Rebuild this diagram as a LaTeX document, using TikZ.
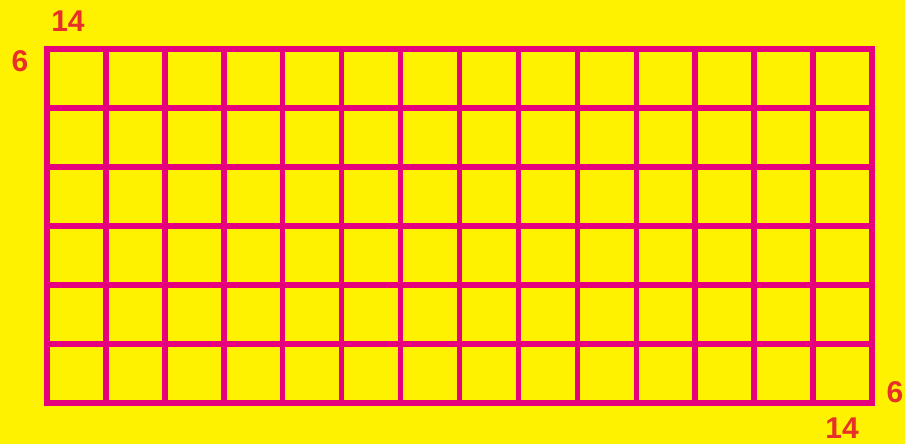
\documentclass[tikz,border=0pt]{standalone}
\usepackage{fontspec}
\setmainfont{Liberation Sans}
\definecolor{bgyellow}{HTML}{FFF200}
\definecolor{gridmag}{HTML}{E6007E}
\definecolor{labred}{HTML}{E8302A}
\tikzset{
  gridline/.style={draw=gridmag, line width=5.5pt, line cap=rect},
  lab/.style={text=labred, font=\fontsize{30}{31}\selectfont\bfseries, inner sep=0pt}
}
\begin{document}
\begin{tikzpicture}[x=1pt,y=-1pt]
\fill[bgyellow] (0,0) rectangle (905,444);
\useasboundingbox (0,0) rectangle (905,444);
\foreach \i in {0,...,14} {
  \draw[gridline] ({47+\i*(872-47)/14},49) -- ({47+\i*(872-47)/14},403);
}
\foreach \j in {0,...,6} {
  \draw[gridline] (47,{49+\j*(403-49)/6}) -- (872,{49+\j*(403-49)/6});
}
\node[lab] (ttop) at (68,21) {14};
\node[lab] (tleft) at (20,61) {6};
\node[lab] (tright) at (895,392) {6};
\node[lab] (tbot) at (842,428) {14};
\end{tikzpicture}
\end{document}
